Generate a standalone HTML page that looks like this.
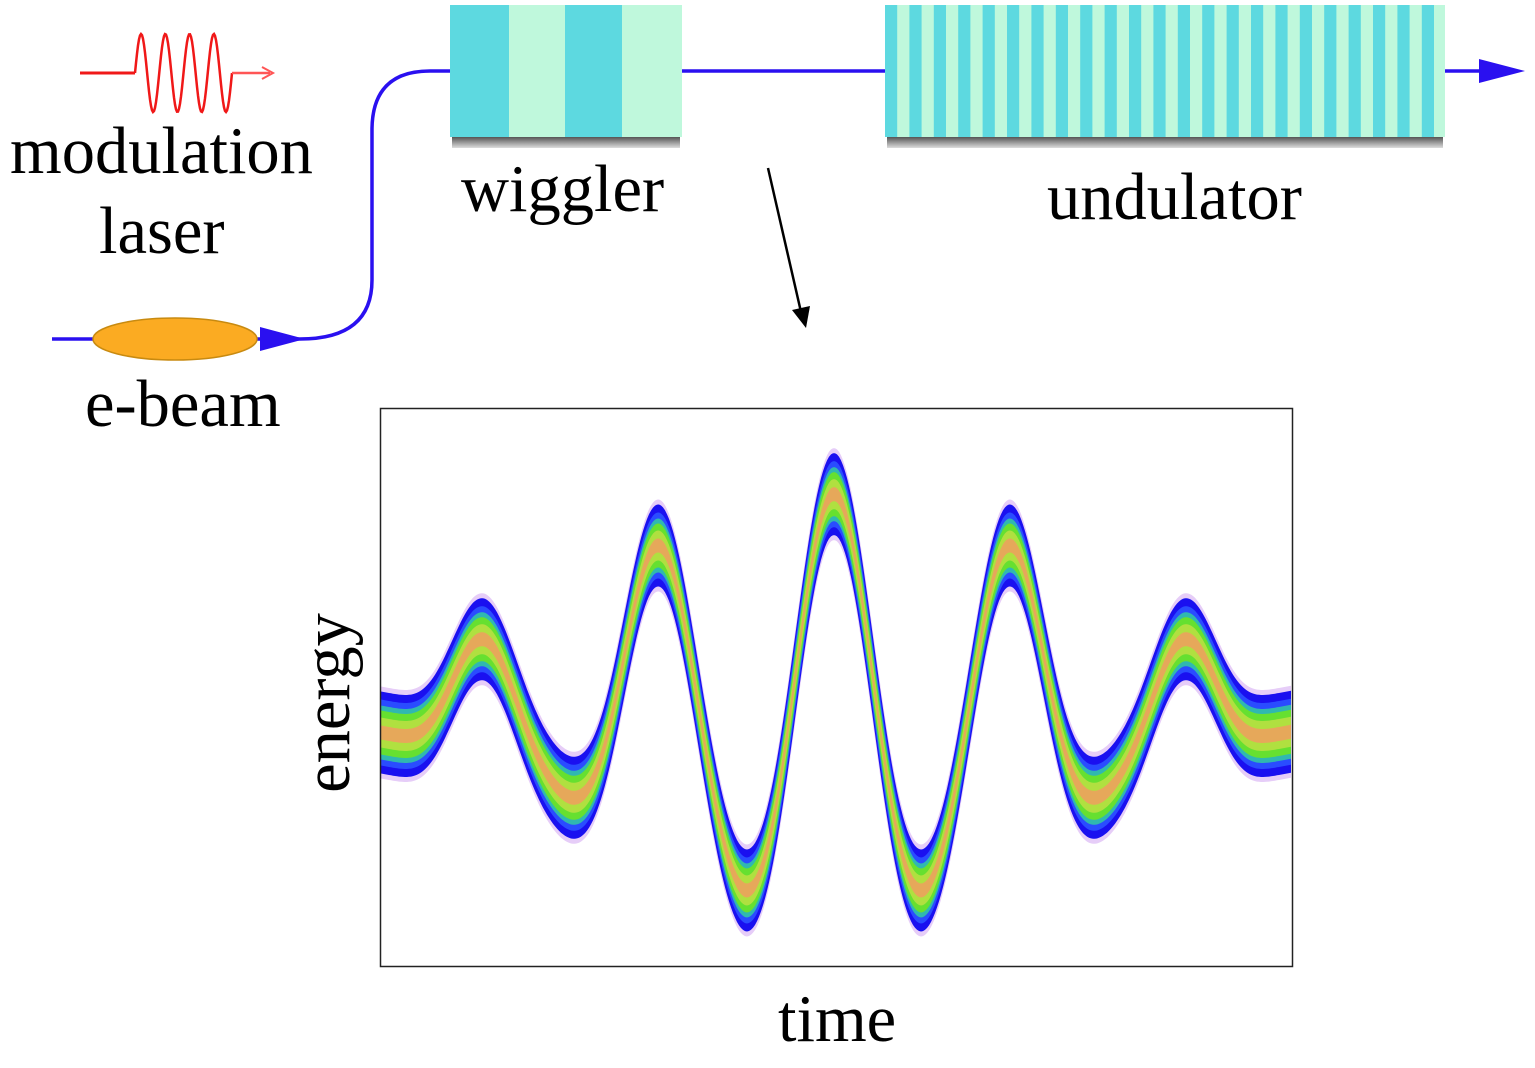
<!DOCTYPE html>
<html><head><meta charset="utf-8">
<style>
html,body{margin:0;padding:0;background:#fff;}
body{width:1535px;height:1068px;position:relative;overflow:hidden;font-family:"Liberation Serif",serif;}
.t{position:absolute;color:#000;white-space:nowrap;line-height:1;font-size:66.5px;}
</style></head><body>
<svg width="1535" height="1068" style="position:absolute;left:0;top:0">
<defs>
<linearGradient id="sh" x1="0" y1="0" x2="0" y2="1"><stop offset="0" stop-color="#555"/><stop offset="1" stop-color="#ddd"/></linearGradient>
</defs>
<path d="M80 73 H135" stroke="#f01818" stroke-width="3" fill="none"/>
<path id="las" d="" stroke="#f01818" stroke-width="2.5" fill="none"/>
<path d="M232 73 H270" stroke="#f55" stroke-width="2.5" fill="none"/>
<path d="M262 67 L273 73 L262 79" stroke="#f55" stroke-width="2" fill="none"/>
<path d="M52 339 H300 Q372 339 372 280 V130 Q372 71 430 71 H450" stroke="#2a10f0" stroke-width="3.5" fill="none"/>
<polygon points="260,327 305,339 260,351" fill="#2a10f0"/>
<path d="M682 71 H885" stroke="#2a10f0" stroke-width="3.5" fill="none"/>
<path d="M1445 71 H1482" stroke="#2a10f0" stroke-width="3.5" fill="none"/>
<polygon points="1479,59 1525,71 1479,83" fill="#2a10f0"/>
<ellipse cx="175" cy="339" rx="82" ry="21" fill="#fbab22" stroke="#c88a10" stroke-width="1.5"/>
<rect x="452" y="137" width="228" height="11" fill="url(#sh)"/>
<rect x="450" y="5" width="59" height="132" fill="#5dd9e0"/>
<rect x="509" y="5" width="56" height="132" fill="#bff8dc"/>
<rect x="565" y="5" width="57" height="132" fill="#5dd9e0"/>
<rect x="622" y="5" width="60" height="132" fill="#bff8dc"/>
<rect x="887" y="137" width="556" height="11" fill="url(#sh)"/>
<g id="und"></g>
<path d="M768 168 L801 312" stroke="#000" stroke-width="2.5"/>
<polygon points="792,310 810,306 806,328" fill="#000"/>
<g id="bands"></g>
<rect x="380.5" y="408.5" width="912" height="558" fill="none" stroke="#222" stroke-width="1.5"/>
</svg>
<div class="t" style="left:10px;top:119px;">modulation</div>
<div class="t" style="left:99px;top:199px;">laser</div>
<div class="t" style="left:461px;top:157px;">wiggler</div>
<div class="t" style="left:1047px;top:165px;">undulator</div>
<div class="t" style="left:85px;top:372px;">e-beam</div>
<div class="t" style="left:778px;top:987px;">time</div>
<div class="t" style="left:328px;top:703px;transform:translate(-50%,-50%) rotate(-90deg);">energy</div>
<script>
(function(){
var ns="http://www.w3.org/2000/svg";
var d="M135 73";
for(var x=135;x<=232;x+=1){var p=(x-135)/97*4*2*Math.PI;d+=" L"+x+" "+(73-39*Math.sin(p)).toFixed(1);}
document.getElementById("las").setAttribute("d",d);
var u=document.getElementById("und");var x0=885,x1=1445,per=24.4,i=0;
for(var x=x0;x<x1;x+=per/2,i++){var r=document.createElementNS(ns,"rect");
r.setAttribute("x",x);r.setAttribute("y",5);r.setAttribute("width",Math.min(per/2+0.5,x1-x));r.setAttribute("height",132);
r.setAttribute("fill",i%2?"#bff8dc":"#5dd9e0");u.appendChild(r);}
function yc(x){var dx=x-834;var c=Math.cos(2*Math.PI*dx/178);
var Au=224*Math.exp(-dx*dx/(2*245*245)),Ad=190*Math.exp(-dx*dx/(2*200*200));
var a=(Au+Ad)/2,b=(Au-Ad)/2;
return 718-(a+b*c)*c;}
var layers=[[46,"#e6cdf8"],[41,"#1a10f0"],[33,"#2a4cff"],[27,"#30b8b0"],[22,"#66e030"],[15,"#b0e040"],[7,"#e6a85a"]];
var g=document.getElementById("bands");
layers.forEach(function(L){var h=L[0],top=[],bot=[];
for(var x=381;x<=1292;x+=2){var y=yc(x);top.push(x+","+(y-h).toFixed(1));bot.unshift(x+","+(y+h).toFixed(1));}
var p=document.createElementNS(ns,"polygon");p.setAttribute("points",top.concat(bot).join(" "));p.setAttribute("fill",L[1]);g.appendChild(p);});
})();
</script>
</body></html>
